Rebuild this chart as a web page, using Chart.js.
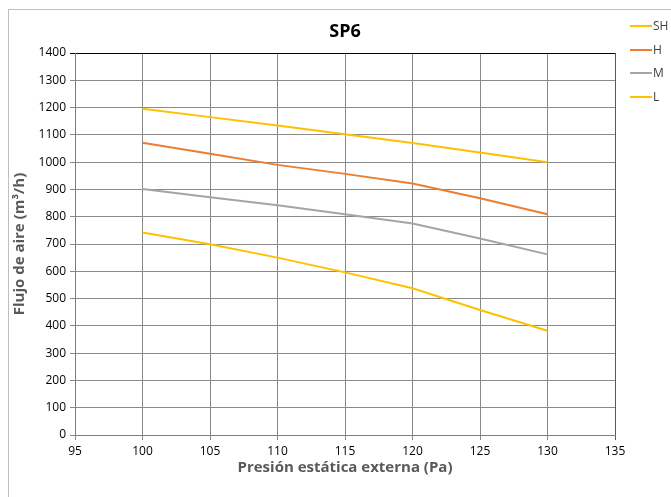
<!DOCTYPE html>
<html>
<head>
<meta charset="utf-8">
<script src="https://cdn.jsdelivr.net/npm/chart.js@4/dist/chart.umd.min.js"></script>
<style>
  html, body { margin: 0; padding: 0; background: #fff; overflow: hidden; }
</style>
</head>
<body>
<canvas id="myChart" width="671" height="497"></canvas>
<script>
// data
const presion = [100, 105, 110, 115, 120, 125, 130];
const flujoSH = [1196, 1165, 1134, 1102, 1070, 1035, 1000];
const flujoH = [1071, 1031, 990, 957, 922, 868, 809];
const flujoM = [902, 871, 842, 809, 775, 720, 662];
const flujoL = [742, 699, 650, 596, 538, 458, 382];
const seriesNames = ['SH', 'H', 'M', 'L'];
const seriesColors = ['#FFC000', '#ED7D31', '#A5A5A5', '#FFC000'];

const FONT = '"Open Sans", "Noto Sans", sans-serif';

function pts(vals) {
  return presion.map((p, i) => ({ x: p, y: vals[i] }));
}

// frame round the whole chart + legend on the right
const frameAndLegend = {
  id: 'frameAndLegend',
  beforeDraw(chart) {
    const c = chart.ctx;
    c.save();
    c.strokeStyle = '#bfbfbf';
    c.lineWidth = 1;
    c.strokeRect(8.5, 9.5, 720, 600);
    c.restore();
  },
  afterDraw(chart) {
    const c = chart.ctx;
    c.save();
    c.font = '12px ' + FONT;
    c.textBaseline = 'middle';
    c.fillStyle = '#404040';
    const ys = [26, 50, 73, 97];
    chart.data.datasets.forEach((ds, i) => {
      c.strokeStyle = ds.borderColor;
      c.lineWidth = 2;
      c.beginPath();
      c.moveTo(630, ys[i]);
      c.lineTo(652, ys[i]);
      c.stroke();
      c.fillText(ds.label, 653, ys[i] + 1);
    });
    c.restore();
  }
};

const ctx = document.getElementById('myChart').getContext('2d');
const spChart = new Chart(ctx, {
  type: 'line',
  data: {
    datasets: [
      { label: seriesNames[0], data: pts(flujoSH), borderColor: seriesColors[0] },
      { label: seriesNames[1], data: pts(flujoH), borderColor: seriesColors[1] },
      { label: seriesNames[2], data: pts(flujoM), borderColor: seriesColors[2] },
      { label: seriesNames[3], data: pts(flujoL), borderColor: seriesColors[3] }
    ]
  },
  options: {
    responsive: false,
    animation: false,
    elements: {
      line: { borderWidth: 2, tension: 0, fill: false },
      point: { radius: 0, hoverRadius: 0 }
    },
    layout: { padding: { left: 0, right: 56, top: 0, bottom: 0 } },
    plugins: {
      legend: { display: false },
      tooltip: { enabled: false },
      title: {
        display: true,
        fullSize: false,
        text: 'SP6',
        color: '#000',
        font: { family: FONT, size: 18, weight: 'bold' },
        padding: { top: 21, bottom: 10.4 }
      }
    },
    scales: {
      x: {
        type: 'linear',
        min: 95,
        max: 135,
        ticks: { stepSize: 5, color: '#000', padding: 4, font: { family: FONT, size: 12 } },
        grid: {
          color: (c) => c.tick && c.tick.value === 135 ? '#595959' : '#8a8a8a',
          lineWidth: 1,
          tickLength: 5
        },
        border: { color: '#7f7f7f', width: 1 },
        title: {
          display: true,
          text: 'Presión estática externa (Pa)',
          color: '#595959',
          font: { family: FONT, size: 15, weight: 'bold' },
          padding: { top: 0, bottom: 20 }
        },
        afterFit(scale) { scale.height = 62; }
      },
      y: {
        min: 0,
        max: 1400,
        ticks: {
          stepSize: 100, color: '#000', padding: 4, font: { family: FONT, size: 12 },
          callback: (v) => String(v)
        },
        grid: {
          color: (c) => c.tick && c.tick.value === 1400 ? '#000' : '#8a8a8a',
          lineWidth: 1,
          tickLength: 5
        },
        border: { color: '#7f7f7f', width: 1 },
        title: {
          display: true,
          text: 'Flujo de aire (m³/h)',
          color: '#595959',
          font: { family: FONT, size: 15, weight: 'bold' },
          padding: { top: 11, bottom: 0 }
        },
        afterFit(scale) { scale.width = 75; }
      }
    }
  },
  plugins: [frameAndLegend]
});
</script>
</body>
</html>
